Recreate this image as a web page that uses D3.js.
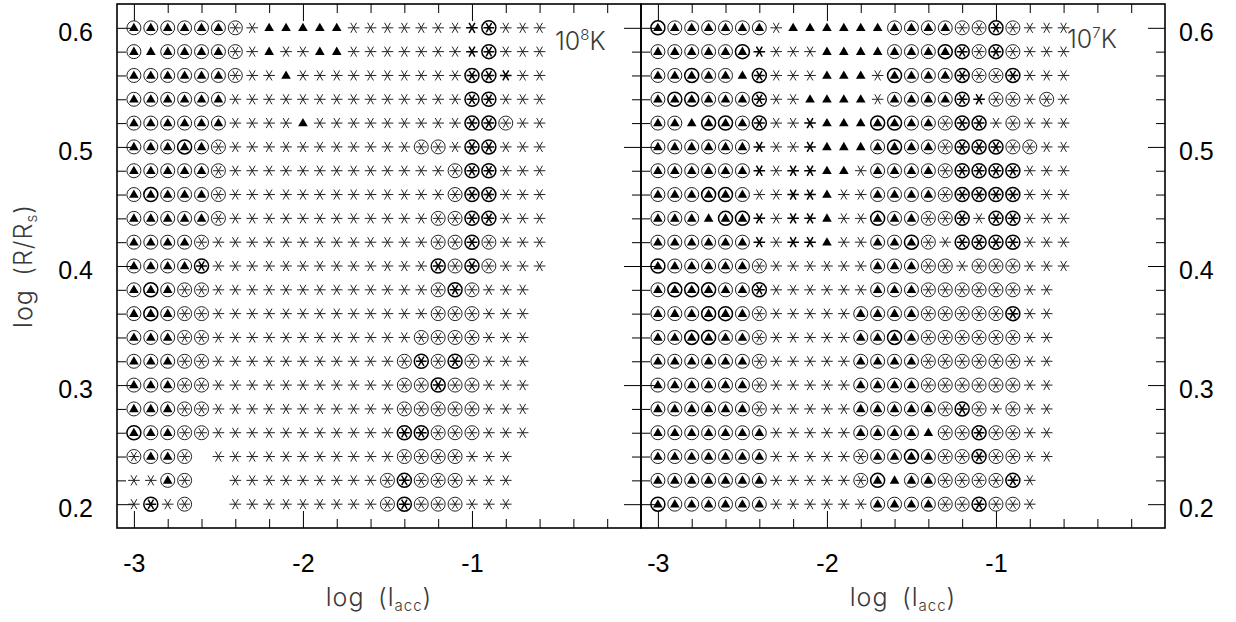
<!DOCTYPE html>
<html>
<head>
<meta charset="utf-8">
<script src="https://cdn.jsdelivr.net/npm/d3@7"></script>
<style>
  body { margin: 0; background: #fff; }
  svg { display: block; }
  .thin { font-family: Inter, "DejaVu Sans", sans-serif; font-weight: 300; fill: #3a3a3a; }
</style>
</head>
<body>
<div id="chart"></div>
<script>
const svgWidth = 1236;
const svgHeight = 622;

// grid columns: log(l_acc)
const logLacc = [-3.0, -2.9, -2.8, -2.7, -2.6, -2.5, -2.4, -2.3, -2.2, -2.1, -2.0, -1.9, -1.8,
                 -1.7, -1.6, -1.5, -1.4, -1.3, -1.2, -1.1, -1.0, -0.9, -0.8, -0.7, -0.6];
// grid rows: log(R/Rs), top row first
const logR = [0.60, 0.58, 0.56, 0.54, 0.52, 0.50, 0.48, 0.46, 0.44, 0.42, 0.40,
              0.38, 0.36, 0.34, 0.32, 0.30, 0.28, 0.26, 0.24, 0.22, 0.20];

// symbol per grid point, one string per row (same order as logR)
// a = circle + triangle, o = circle + star, s = star, t = triangle, . = nothing
// upper case = heavier stroke
const rowsHot = [
  "aaaaaaostttttsssssssSOsss",
  "ataaaaostssttsssssssSOsss",
  "aaaaaaosstssssssssssOOSss",
  "aaaaaassssssssssssssOOsss",
  "aaaaaasssstsssssssssOOoss",
  "aaaAaosssssssssssoosOOsss",
  "aaaaaosssssssssssssoOOsss",
  "aAaaaosssssssssssssoOOsss",
  "aaaaaossssssssssssooOOsss",
  "aaaaosssssssssssssooOosss",
  "aaaaOsssssssssssssOoOosss",
  "aAaoosssssssssssssoOosss.",
  "aAaoosssssssssssssooosss.",
  "aaaoossssssssssssoooosss.",
  "aaaoosssssssssssoOoOosss.",
  "aaaoosssssssssssooOoosss.",
  "aaaoosssssssssssooooosss.",
  "AaaoosssssssssssOOooosss.",
  "oaao.sssssssssssoooosss..",
  "ssao..sssssssssoOooosss..",
  "sOso..sssssssssoOooosss.."
];

const rowsCool = [
  "AaaaaaasttttttaaaaooOosss",
  "aaaaaASsssttttaaaAOoOosss",
  "aaAaatOssstttsAaaaOooOsss",
  "aAAaaaOssttttsaaaaOSoosos",
  "aatAAaOssStttAAaaoOOsosss",
  "aaaaaaSssStttaAaaoOOOooss",
  "aaaaaaSsSSttsaaaaoOOOOsss",
  "aaaAAassSStssaaaaoOOOOsss",
  "aaatAASsSStssAaaooOsOOsss",
  "aaaaaaSsSStssaaAosOOOOsss",
  "Aaaaaaossssssaaaoosooosss",
  "aAAAaaOssssssaaaooooooss.",
  "aaaAAaosssssaaaaoooooOss.",
  "aaAAaaosssssaaAaooooooss.",
  "aaaaaaosssssaaaaooooooss.",
  "aaaaaaosssssaaaaooooooss.",
  "aaaaaaosssssaaaaaoOososs.",
  "aaaaaaasssssaaaatooOooss.",
  "aaaaaaasssssoaaAaooOooss.",
  "aaaaaaasssssoAtaaooooOs..",
  "AaaaaaassssssaaaaooOoos.."
];

const xTickLabels = [-3, -2, -1];
const yTickLabels = [0.2, 0.3, 0.4, 0.5, 0.6];
const tempExponents = ["8", "7"];

const plotTop = 4, plotBottom = 528;
const panels = [
  { left: 117, right: 641, rows: rowsHot, temp: tempExponents[0], labelX: 555, labelY: 50 },
  { left: 641, right: 1165, rows: rowsCool, temp: tempExponents[1], labelX: 1067, labelY: 48 }
];

const svg = d3.select("#chart")
  .append("svg")
  .attr("width", svgWidth)
  .attr("height", svgHeight);

const yScale = d3.scaleLinear().domain([0.18, 0.62]).range([plotBottom, plotTop]);

const xMinor = d3.range(-2.8, -0.1, 0.2).map(v => +v.toFixed(1)).filter(v => !xTickLabels.includes(v));
const yMinor = d3.range(0.2, 0.61, 0.02).map(v => +v.toFixed(2)).filter(v => !yTickLabels.includes(v));

// six-armed star with a horizontal bar
function starPath(r) {
  return [0, 60, 120].map(a => {
    const dx = r * Math.cos(a * Math.PI / 180), dy = r * Math.sin(a * Math.PI / 180);
    return `M${-dx},${-dy}L${dx},${dy}`;
  }).join("");
}
const tri = d3.symbol().type(d3.symbolTriangle).size(40)();

function styleAxis(g) {
  g.select(".domain").remove();
  g.selectAll(".tick line").attr("stroke", "#000").attr("stroke-width", 1);
}

panels.forEach((p, pi) => {
  const xScale = d3.scaleLinear().domain([-3.1, 0]).range([p.left, p.right]);

  // minor + major ticks on all four sides, pointing inward
  const sides = [
    { axis: d3.axisBottom, scale: xScale, pos: `translate(0,${plotBottom})`, minor: xMinor, major: xTickLabels, labels: true, pad: 26 },
    { axis: d3.axisTop, scale: xScale, pos: `translate(0,${plotTop})`, minor: xMinor, major: xTickLabels, labels: false },
    { axis: d3.axisLeft, scale: yScale, pos: `translate(${p.left},0)`, minor: yMinor, major: yTickLabels, labels: pi === 0, pad: 24 },
    { axis: d3.axisRight, scale: yScale, pos: `translate(${p.right},0)`, minor: yMinor, major: yTickLabels, labels: pi === 1, pad: 14 }
  ];
  sides.forEach(s => {
    svg.append("g").attr("transform", s.pos)
      .call(s.axis(s.scale).tickValues(s.minor).tickSize(-9).tickFormat(""))
      .call(styleAxis);
    const major = svg.append("g").attr("transform", s.pos)
      .call(s.axis(s.scale).tickValues(s.major).tickSize(-17).tickPadding(s.pad || 0)
        .tickFormat(s.labels ? (s.scale === yScale ? d3.format(".1f") : d => d) : ""))
      .call(styleAxis);
    major.selectAll("text")
      .attr("fill", "#000")
      .style("font-family", '"Liberation Sans", Arial, sans-serif')
      .style("font-size", "25px");
    if (s.scale === yScale) major.selectAll("text").attr("dy", "0.5em");
  });

  // frame
  svg.append("rect")
    .attr("x", p.left).attr("y", plotTop)
    .attr("width", p.right - p.left).attr("height", plotBottom - plotTop)
    .attr("fill", "none").attr("stroke", "#000").attr("stroke-width", 1.6);

  // grid points
  const cells = [];
  p.rows.forEach((row, i) => {
    row.split("").forEach((code, j) => {
      if (code !== ".") cells.push({ lx: logLacc[j], lr: logR[i], code: code });
    });
  });

  svg.append("g").selectAll("g")
    .data(cells)
    .join("g")
    .attr("transform", d => `translate(${xScale(d.lx)},${yScale(d.lr)})`)
    .each(function(d) {
      const g = d3.select(this);
      const c = d.code.toLowerCase();
      const sw = d.code === c ? 1 : 1.5;
      const col = d.code === c ? "#222" : "#000";
      if (c === "a" || c === "o") {
        g.append("circle").attr("r", 7).attr("fill", "none").attr("stroke", col).attr("stroke-width", sw);
      }
      if (c === "a" || c === "t") {
        g.append("path").attr("d", tri).attr("transform", "translate(0,0.5)").attr("fill", "#000");
      }
      if (c === "o" || c === "s") {
        g.append("path").attr("d", starPath(c === "o" ? 5.4 : 5.8)).attr("fill", "none").attr("stroke", col).attr("stroke-width", sw);
      }
    });

  // temperature label
  const lab = svg.append("text").attr("class", "thin")
    .attr("x", p.labelX).attr("y", p.labelY).style("font-size", "25px");
  lab.append("tspan").text("10");
  lab.append("tspan").style("font-size", "15px").attr("dy", -10).text(p.temp);
  lab.append("tspan").attr("dy", 10).text("K");

  // x title
  const xt = svg.append("text").attr("class", "thin")
    .attr("x", (p.left + p.right) / 2).attr("y", 606)
    .attr("text-anchor", "middle").style("font-size", "25px").style("letter-spacing", "1px");
  xt.append("tspan").text("log\u2002(l");
  xt.append("tspan").style("font-size", "15px").attr("dy", 5).text("acc");
  xt.append("tspan").attr("dy", -5).text(")");
});

// y title
const yt = svg.append("text").attr("class", "thin")
  .attr("transform", "translate(32,266) rotate(-90)")
  .attr("text-anchor", "middle").style("font-size", "25px").style("letter-spacing", "1px");
yt.append("tspan").text("log\u2002(R/R");
yt.append("tspan").style("font-size", "15px").attr("dy", 5).text("s");
yt.append("tspan").attr("dy", -5).text(")");
</script>
</body>
</html>
